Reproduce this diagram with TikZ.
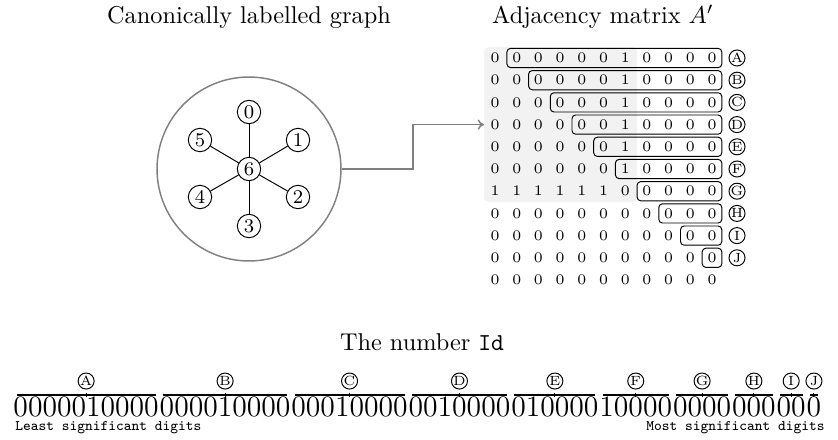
\documentclass[tikz,border=0pt]{standalone}
\usepackage{fontspec}
\usetikzlibrary{fit,calc,arrows.meta}
\begin{document}
\begin{tikzpicture}[x=0.41152pt,y=-0.41152pt,
  title/.style={font=\fontsize{10}{12}\selectfont, inner sep=0},
  vtx/.style={circle, draw, line width=0.4pt, minimum size=9.6pt, inner sep=0, font=\fontsize{8}{9}\selectfont, fill=white},
  edge/.style={line width=0.4pt},
  cell/.style={inner sep=0, font=\fontsize{6}{7}\selectfont, text height=3.9pt, text depth=0pt},
  rowbox/.style={draw, rounded corners=1.5pt, line width=0.4pt, inner xsep=2pt, inner ysep=1.8pt},
  tag/.style={circle, draw, line width=0.4pt, minimum size=6.6pt, inner sep=0, font=\fontsize{5.5}{6}\selectfont},
  seg/.style={inner sep=0, anchor=west, font=\fontsize{12.2}{14}\selectfont},
  ovl/.style={line width=0.5pt},
  note/.style={inner sep=0, font=\fontsize{6}{7}\selectfont\ttfamily},
  link/.style={draw=gray, line width=0.6pt, -{To[length=2.6pt,width=4.2pt]}}
]
\useasboundingbox (0,0) rectangle (838,439);

% titles
\node[title] (t1) at (249,17) {Canonically labelled graph};
\node[title] (t2) at (603,17) {Adjacency matrix $A'$};
\node[title] (t3) at (422,342) {The number \texttt{Id}};

% graph
\node[circle, draw=gray, line width=0.6pt, minimum size=75.7pt, inner sep=0] (graph) at (249,169) {};
\node[vtx] (v6) at (249,169) {6};
\node[vtx] (v0) at (249,112) {0};
\node[vtx] (v1) at (298,140) {1};
\node[vtx] (v2) at (298,197) {2};
\node[vtx] (v3) at (249,226) {3};
\node[vtx] (v4) at (200,197) {4};
\node[vtx] (v5) at (200,140) {5};
\foreach \i in {0,...,5} \draw[edge] (v6) -- (v\i);

% shaded block
\fill[black!5, rounded corners=2pt] (484,47) rectangle (637,202);

% matrix cells
\foreach \r in {0,...,10} {
  \foreach \c in {0,...,10} {
    \pgfmathtruncatemacro\v{and(\r<6,\c==6)+and(\r==6,\c<6)}
    \node[cell] (m-\r-\c) at ({495+21.7*\c},{58+22.2*\r}) {\v};
  }
}

% row boxes and tags
\foreach \r/\L in {0/A,1/B,2/C,3/D,4/E,5/F,6/G,7/H,8/I,9/J} {
  \pgfmathtruncatemacro\nx{\r+1}
  \node[rowbox, fit=(m-\r-\nx)(m-\r-10)] (box\L) {};
  \node[tag] (t\L) at (737,{58+22.2*\r}) {\L};
}

% arrow
\coordinate (bend) at (413,169);
\coordinate (arrowend) at (484,124.6);
\draw[link] (graph.east) -- (bend) |- (arrowend);

% the number
\node[seg] (sA) at (13,407) {0000010000};
\node[seg] (sB) at (sA.east) {000010000};
\node[seg] (sC) at (sB.east) {00010000};
\node[seg] (sD) at (sC.east) {0010000};
\node[seg] (sE) at (sD.east) {010000};
\node[seg] (sF) at (sE.east) {10000};
\node[seg] (sG) at (sF.east) {0000};
\node[seg] (sH) at (sG.east) {000};
\node[seg] (sI) at (sH.east) {00};
\node[seg] (sJ) at (sI.east) {0};
\foreach \L in {A,B,C,D,E,F,G,H,I,J} {
  \draw[ovl] ([xshift=1.5pt,yshift=0.6pt]s\L.north west) -- ([xshift=-1.5pt,yshift=0.6pt]s\L.north east);
  \draw[line width=0.4pt] ([yshift=1.3pt]s\L.north) -- ([yshift=-0.2pt]s\L.north);
  \node[tag] (b\L) at ([yshift=6.3pt]s\L.north) {\L};
}
\node[note, anchor=west] (lsd) at (15,428) {Least significant digits};
\node[note, anchor=east] (msd) at (825,428) {Most significant digits};
\end{tikzpicture}
\end{document}
